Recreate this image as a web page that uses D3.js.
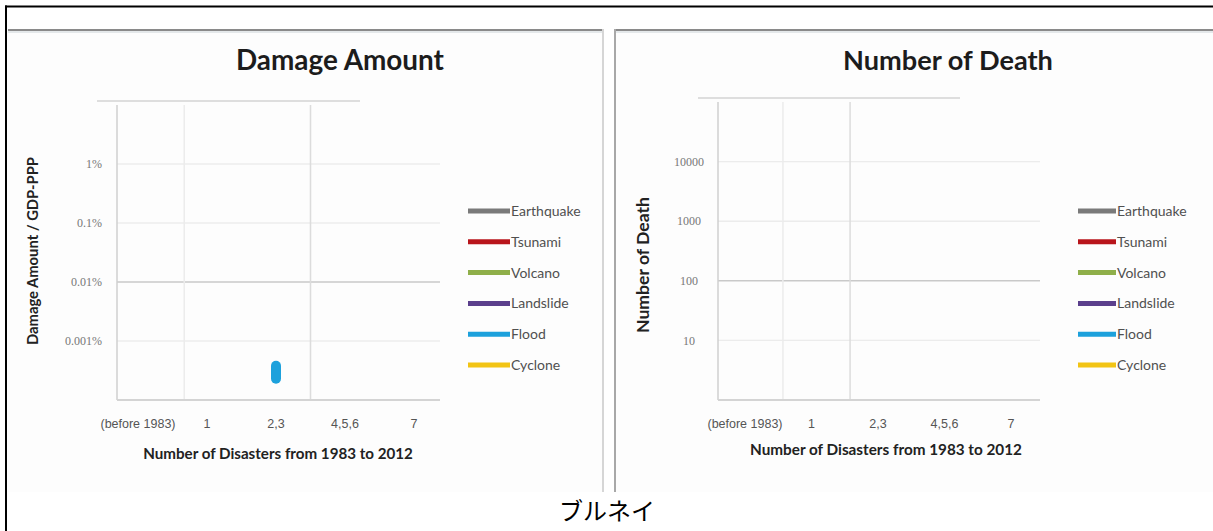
<!DOCTYPE html>
<html>
<head>
<meta charset="utf-8">
<script src="https://cdn.jsdelivr.net/npm/d3@7"></script>
<style>
  html, body { margin: 0; padding: 0; background: #fff; }
  svg { display: block; }
</style>
</head>
<body>
<svg id="fig" width="1213" height="531"></svg>
<script>
// ---- data ----
const categories = ["(before 1983)", "1", "2,3", "4,5,6", "7"];
const hazards = ["Earthquake", "Tsunami", "Volcano", "Landslide", "Flood", "Cyclone"];
const hazardColors = ["#7a7a7a", "#b8151b", "#8faf4a", "#5b3f8c", "#1da1dc", "#f2c414"];

const damageTicks = [0.001, 0.01, 0.1, 1];               // % of GDP-PPP
const damageTickLabels = ["0.001%", "0.01%", "0.1%", "1%"];
const deathTicks = [10, 100, 1000, 10000];
const deathTickLabels = ["10", "100", "1000", "10000"];

// recorded flood events (damage as % of GDP-PPP), placed by disaster count
const floodDamage = [
  { category: "2,3", value: 0.00038 },
  { category: "2,3", value: 0.00023 }
];
const deathRecords = [];   // no fatalities recorded

const caption = "ブルネイ";

// ---- drawing ----
const svg = d3.select("#fig");
const W = 1213, H = 531;
svg.append("rect").attr("width", W).attr("height", H).attr("fill", "#fff");

function fitText(sel, target) {
  const node = sel.node();
  const fs = parseFloat(sel.attr("font-size"));
  const w = node.getComputedTextLength();
  if (w > 0) sel.attr("font-size", (fs * target / w).toFixed(2));
}

const panels = [
  {
    frame: { x: 8, y: 29, w: 595, h: 463, edge: "right" },
    title: "Damage Amount", titleX: 340, titleW: 208,
    plot: { x0: 117, x1: 440, y0: 105, y1: 400 },
    yDomain: [0.0001, 10], ticks: damageTicks, tickLabels: damageTickLabels,
    tickAnchor: "end", tickX: 102,
    yTitle: "Damage Amount / GDP-PPP", yTitleX: 33, yTitleY: 251, yTitleW: 188,
    catRange: [138, 414], vGrid: [0.67, 2.5],
    xTitleY: 454, xTitleX: 278, xTitleW: 270,
    legendLine: [468, 510],
    series: [{ hazard: "Flood", points: floodDamage }]
  },
  {
    frame: { x: 614, y: 29, w: 610, h: 463, edge: "left" },
    title: "Number of Death", titleX: 948, titleW: 210,
    plot: { x0: 718, x1: 1040, y0: 102, y1: 400 },
    yDomain: [1, 100000], ticks: deathTicks, tickLabels: deathTickLabels,
    tickAnchor: "middle", tickX: 689,
    yTitle: "Number of Death", yTitleX: 643, yTitleY: 265, yTitleW: 136,
    catRange: [745, 1011], vGrid: [0.57, 1.58],
    xTitleY: 450, xTitleX: 886, xTitleW: 272,
    legendLine: [1078, 1116],
    series: [{ hazard: "Flood", points: deathRecords }]
  }
];

panels.forEach((p, pi) => {
  const g = svg.append("g");
  const f = p.frame;

  // picture frame with soft grey edges
  g.append("rect").attr("x", f.x).attr("y", f.y).attr("width", f.w).attr("height", f.h)
    .attr("fill", "#fdfdfd");
  g.append("line").attr("x1", f.x).attr("x2", f.x + f.w).attr("y1", f.y + 1).attr("y2", f.y + 1)
    .attr("stroke", "#8a8a8a").attr("stroke-width", 2);
  g.append("line").attr("x1", f.x).attr("x2", f.x + f.w).attr("y1", f.y + 3).attr("y2", f.y + 3)
    .attr("stroke", "#e4e8ea").attr("stroke-width", 2);
  const ex = f.edge === "right" ? f.x + f.w : f.x + 1;
  g.append("line").attr("x1", ex).attr("x2", ex).attr("y1", f.y).attr("y2", f.y + f.h)
    .attr("stroke", f.edge === "right" ? "#d6d6d6" : "#a8a8a8").attr("stroke-width", 2);

  const pl = p.plot;
  const y = d3.scaleLog().domain(p.yDomain).range([pl.y1, pl.y0]);
  const xi = d3.scaleLinear().domain([0, categories.length - 1]).range(p.catRange);
  const xc = c => xi(categories.indexOf(c));

  // horizontal gridlines
  const tickSel = g.append("g");
  p.ticks.forEach((t, i) => {
    const strong = i === 1;
    tickSel.append("line")
      .attr("x1", pl.x0).attr("x2", pl.x1)
      .attr("y1", y(t)).attr("y2", y(t))
      .attr("stroke", strong ? "#c9c9c9" : "#ececec")
      .attr("stroke-width", strong ? 1.6 : 1.4);
  });
  // vertical gridlines
  p.vGrid.forEach((v, i) => {
    g.append("line")
      .attr("x1", xi(v)).attr("x2", xi(v))
      .attr("y1", pl.y0).attr("y2", pl.y1)
      .attr("stroke", i === 1 ? "#dcdcdc" : "#ececec").attr("stroke-width", 1.5);
  });
  // plot-area border
  g.append("line").attr("x1", pl.x0 - 20).attr("x2", pl.x1 - 80)
    .attr("y1", pl.y0 - 4).attr("y2", pl.y0 - 4).attr("stroke", "#dedede").attr("stroke-width", 2);
  g.append("line").attr("x1", pl.x0).attr("x2", pl.x0).attr("y1", pl.y0).attr("y2", pl.y1)
    .attr("stroke", "#cfcfcf").attr("stroke-width", 1.5);
  g.append("line").attr("x1", pl.x0).attr("x2", pl.x1).attr("y1", pl.y1).attr("y2", pl.y1)
    .attr("stroke", "#d4d4d4").attr("stroke-width", 2);

  // y tick labels
  p.ticks.forEach((t, i) => {
    g.append("text").attr("x", p.tickX).attr("y", y(t))
      .attr("dy", "0.35em").attr("text-anchor", p.tickAnchor)
      .attr("font-family", "Liberation Serif, serif").attr("font-size", 12)
      .attr("fill", "#777").text(p.tickLabels[i]);
  });

  // x category labels
  categories.forEach((c, i) => {
    g.append("text").attr("x", xi(i)).attr("y", 424).attr("dy", "0.35em")
      .attr("text-anchor", "middle")
      .attr("font-family", "Liberation Sans Narrow, Arial Narrow, sans-serif")
      .attr("font-size", 12.5).attr("fill", "#555").text(c);
  });

  // titles
  const t = g.append("text").attr("x", p.titleX).attr("y", 60).attr("dy", "0.35em")
    .attr("text-anchor", "middle").attr("font-family", "Lato, sans-serif")
    .attr("font-weight", 700).attr("font-size", 24).attr("fill", "#1c1c1c").text(p.title);
  fitText(t, p.titleW);

  const xt = g.append("text").attr("x", p.xTitleX).attr("y", p.xTitleY).attr("dy", "0.35em")
    .attr("text-anchor", "middle").attr("font-family", "Lato, sans-serif")
    .attr("font-weight", 700).attr("font-size", 13).attr("fill", "#222")
    .text("Number of Disasters from 1983 to 2012");
  fitText(xt, p.xTitleW);

  const yt = g.append("text")
    .attr("transform", `translate(${p.yTitleX},${p.yTitleY}) rotate(-90)`)
    .attr("dy", "0.35em").attr("text-anchor", "middle").attr("font-family", "Lato, sans-serif")
    .attr("font-weight", 700).attr("font-size", 13).attr("fill", "#222").text(p.yTitle);
  fitText(yt, p.yTitleW);

  // legend
  hazards.forEach((h, i) => {
    const ly = 211 + i * 30.8;
    g.append("line").attr("x1", p.legendLine[0]).attr("x2", p.legendLine[1])
      .attr("y1", ly).attr("y2", ly).attr("stroke", hazardColors[i]).attr("stroke-width", 5);
    g.append("text").attr("x", p.legendLine[1] + 1).attr("y", ly).attr("dy", "0.35em")
      .attr("font-family", "Lato, sans-serif").attr("font-size", 14)
      .attr("fill", "#505050").text(h);
  });

  // data series
  const line = d3.line().x(d => xc(d.category)).y(d => y(d.value));
  p.series.forEach(s => {
    if (!s.points.length) return;
    g.append("path").datum(s.points)
      .attr("d", line)
      .attr("fill", "none")
      .attr("stroke", hazardColors[hazards.indexOf(s.hazard)])
      .attr("stroke-width", 10)
      .attr("stroke-linecap", "round");
  });
});

// table rules
svg.append("line").attr("x1", 5).attr("x2", W).attr("y1", 6.5).attr("y2", 6.5)
  .attr("stroke", "#000").attr("stroke-width", 2);
svg.append("line").attr("x1", 6).attr("x2", 6).attr("y1", 5.5).attr("y2", H)
  .attr("stroke", "#000").attr("stroke-width", 2);

// caption
svg.append("text").attr("x", 607).attr("y", 512).attr("dy", "0.35em")
  .attr("text-anchor", "middle").attr("font-family", "Noto Sans CJK JP, sans-serif")
  .attr("font-size", 24).attr("fill", "#000").text(caption);
</script>
</body>
</html>
